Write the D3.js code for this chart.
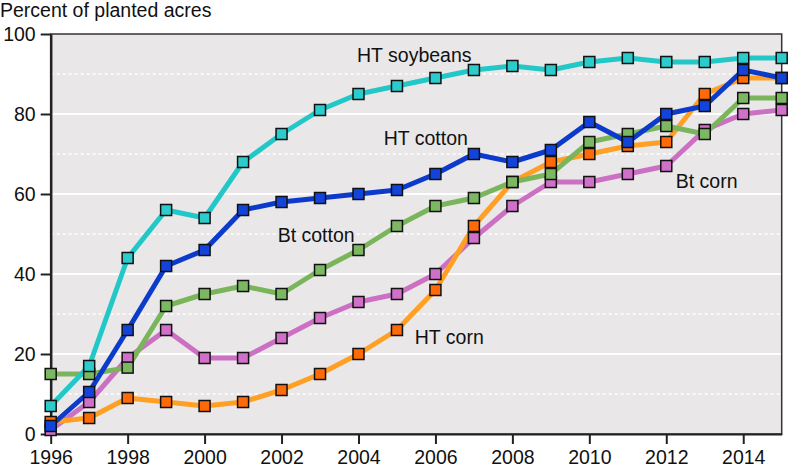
<!DOCTYPE html>
<html><head><meta charset="utf-8">
<script src="https://cdn.jsdelivr.net/npm/d3@7"></script>
<style>body{margin:0;background:#fff}svg{display:block}text{font-family:"Liberation Sans",Arial,sans-serif;fill:#111}</style>
</head><body><svg id="c" width="789" height="467"></svg>
<script>
const years = d3.range(1996, 2016);
const seriesNames = ["Bt corn", "HT corn", "Bt cotton", "HT cotton", "HT soybeans"];
const btCorn     = [1, 8, 19, 26, 19, 19, 24, 29, 33, 35, 40, 49, 57, 63, 63, 65, 67, 76, 80, 81];
const htCorn     = [3, 4, 9, 8, 7, 8, 11, 15, 20, 26, 36, 52, 63, 68, 70, 72, 73, 85, 89, 89];
const btCotton   = [15, 15, 16.6, 32, 35, 37, 35, 41, 46, 52, 57, 59, 63, 65, 73, 75, 77, 75, 84, 84];
const htCotton   = [2, 10.5, 26, 42, 46, 56, 58, 59, 60, 61, 65, 70, 68, 71, 78, 73, 80, 82, 91, 89];
const htSoybeans = [7, 17, 44, 56, 54, 68, 75, 81, 85, 87, 89, 91, 92, 91, 93, 94, 93, 93, 94, 94];
const yTicks = [0, 20, 40, 60, 80, 100];
const yMinor = [10, 30, 50, 70, 90];
const xTicks = d3.range(1996, 2015, 2);
// label anchors in data units (year, percent)
const labelText = ["HT soybeans", "HT cotton", "Bt cotton", "HT corn", "Bt corn"];
const labelYear = [2005.45, 2005.75, 2002.9, 2006.36, 2013.05];
const labelVal  = [93, 72.2, 48, 22.5, 61.5];

const lineColors   = ["#cc70c4", "#ffa024", "#7ab55c", "#0c3bcc", "#22c8c8"];
const markerColors = ["#d070c8", "#ff6a08", "#7cb862", "#1244dc", "#2ccccc"];
const data = [btCorn, htCorn, btCotton, htCotton, htSoybeans];

const FS = "19.5px";
const svg = d3.select("#c");
const L = 50.7, R = 781.7, T = 34, B = 434;
const x = d3.scaleLinear().domain([1996, 2015]).range([L, R]);
const y = d3.scaleLinear().domain([0, 100]).range([B, T]);

svg.append("rect").attr("x", L).attr("y", T).attr("width", R - L).attr("height", B - T).attr("fill", "#e9e7e8");

svg.append("g").selectAll("line").data(yMinor).join("line")
  .attr("x1", L).attr("x2", R).attr("y1", d => y(d)).attr("y2", d => y(d))
  .attr("stroke", "#fff").attr("stroke-width", 1.5).attr("stroke-dasharray", "3,3");
svg.append("g").selectAll("line").data(yTicks.filter(d => d > 0 && d < 100)).join("line")
  .attr("x1", L).attr("x2", R).attr("y1", d => y(d)).attr("y2", d => y(d))
  .attr("stroke", "#fff").attr("stroke-width", 2);

// frame
svg.append("rect").attr("x", L).attr("y", T).attr("width", R - L).attr("height", B - T)
  .attr("fill", "none").attr("stroke", "#333").attr("stroke-width", 1.5);

const yAxis = svg.append("g").attr("transform", `translate(${L},0)`)
  .call(d3.axisLeft(y).tickValues(yTicks).tickSize(10).tickPadding(5).tickSizeOuter(0));
yAxis.select(".domain").attr("stroke", "#222").attr("stroke-width", 2.5);
yAxis.selectAll(".tick line").attr("stroke", "#222").attr("stroke-width", 2);
yAxis.selectAll("text").style("font-size", FS).attr("fill", "#111").attr("font-family", null);

const xAxis = svg.append("g").attr("transform", `translate(0,${B})`)
  .call(d3.axisBottom(x).tickValues(xTicks).tickFormat(d3.format("d")).tickSize(10).tickPadding(6).tickSizeOuter(0));
xAxis.select(".domain").attr("stroke", "#222").attr("stroke-width", 2);
xAxis.selectAll(".tick line").attr("stroke", "#222").attr("stroke-width", 2);
xAxis.selectAll("text").style("font-size", FS).attr("fill", "#111").attr("font-family", null);

svg.append("text").attr("x", 0).attr("y", 17).style("font-size", FS).text("Percent of planted acres");

const line = d3.line().x((d, i) => x(years[i])).y(d => y(d));
data.forEach((s, k) => {
  svg.append("path").datum(s).attr("d", line).attr("fill", "none")
    .attr("stroke", lineColors[k]).attr("stroke-width", 5).attr("stroke-linejoin", "round");
});
data.forEach((s, k) => {
  svg.append("g").selectAll("rect").data(s).join("rect")
    .attr("x", (d, i) => x(years[i]) - 5.5).attr("y", d => y(d) - 5.5)
    .attr("width", 11).attr("height", 11)
    .attr("fill", markerColors[k]).attr("stroke", "#111").attr("stroke-width", 1.5);
});

svg.append("g").selectAll("text").data(labelText).join("text")
  .attr("x", (d, i) => x(labelYear[i])).attr("y", (d, i) => y(labelVal[i]))
  .attr("text-anchor", "middle").style("font-size", FS).text(d => d);
</script></body></html>
